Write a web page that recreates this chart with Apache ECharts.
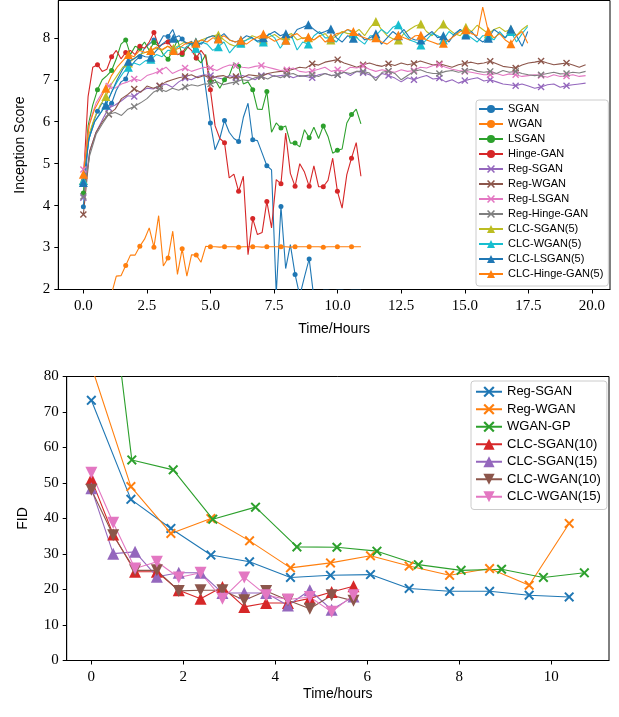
<!DOCTYPE html>
<html><head><meta charset="utf-8">
<script src="https://cdn.jsdelivr.net/npm/echarts@6/dist/echarts.min.js"></script>
<style>html,body{margin:0;padding:0;background:#fff}#c{width:619px;height:717px}</style>
</head><body><div id="c"></div>
<script>
// ---------- TOP CHART: Inception Score vs Time/Hours ----------
const stepA = 0.185, stepB = 0.25, stepC = 0.2212;   // sampling steps (hours)
function grid(n, step){ const a=[]; for(let i=0;i<n;i++) a.push(+(i*step).toFixed(4)); return a; }
const tA = grid(60, stepA);   // SGAN / WGAN / LSGAN / Hinge-GAN
const tB = grid(80, stepB);   // Reg-* series
const tC = grid(80, stepC);   // CLC-*(5) series

const sgan = [3.97,5.5,5.95,6.25,6.45,6.35,6.44,6.75,6.95,7.02,7.3,7.45,7.55,7.75,7.85,7.95,7.85,8.05,8.03,8.2,7.9,7.97,7.85,7.92,7.71,7.6,6.8,5.97,5.33,5.6,6.03,5.75,5.6,5.53,6.1,6.44,5.57,5.55,5.25,4.95,4.85,1.9,3.98,2.5,3.07,2.36,1.85,2.3,2.73,1.8,1.9,1.98,1.98,1.97,1.98,1.98,1.97,1.98,1.98,1.98];
const wgan = [1.2,1.3,1.25,1.3,1.5,1.7,1.9,2.32,2.33,2.57,2.82,2.82,3.03,3.2,3.47,3.01,3.76,2.56,2.75,3.39,2.36,2.97,2.32,2.83,2.82,2.65,3.03,3.02,3.02,3.01,3.02,3.02,3.02,3.01,3.02,3.02,3.02,3.02,3.01,3.02,3.02,3.02,3.02,3.02,3.01,3.02,3.02,3.02,3.02,3.02,3.02,3.01,3.02,3.02,3.02,3.02,3.02,3.02,3.02,3.02];
const lsgan = [4.3,5.9,6.4,6.76,7.0,7.1,7.22,7.5,7.85,7.95,7.6,7.8,7.75,7.9,7.7,7.89,7.8,7.6,7.49,7.7,7.95,7.6,7.75,7.9,7.52,7.4,7.6,6.95,7.0,6.8,7.0,7.1,7.4,7.32,6.9,6.95,6.76,6.3,6.29,6.72,5.75,5.97,5.85,5.9,5.49,5.49,5.4,5.81,5.62,5.87,5.6,5.9,5.65,5.25,5.32,5.35,5.97,6.17,6.3,5.95];
const hinge = [4.6,6.6,7.3,7.36,7.2,7.25,7.55,7.7,7.5,7.65,7.7,7.6,7.8,7.75,7.9,8.13,7.8,7.85,7.9,7.75,7.6,7.64,7.8,7.7,7.52,7.7,7.55,6.76,5.9,5.6,5.5,4.66,4.75,4.34,4.7,2.83,3.69,3.31,3.36,4.1,3.47,4.62,4.52,5.73,4.77,4.46,5.0,4.8,4.46,4.95,4.45,4.45,4.6,5.13,4.34,3.94,4.74,5.13,5.5,4.7];

const regSgan = [4.19,5.3,5.75,6.05, 6.33,6.4,6.5,6.62, 6.6,6.72,6.8,6.78, 6.85,6.9,6.82,6.95, 7.04,7.0,7.08,7.12, 7.1,7.05,7.02,7.1, 7.05,7.1,7.06,7.0, 7.1,7.15,7.08,7.1, 7.12,7.05,7.1,7.08, 7.05,7.12,7.15,7.1, 7.12,7.18,7.1,7.2, 7.17,7.12,7.05,7.15, 7.1,7.04,6.95,7.05, 7.0,7.06,7.1,7.02, 7.04,6.95,7.0,6.92, 6.98,7.02,7.05,6.97, 7.0,6.95,6.9,6.88, 6.86,6.9,6.85,6.8, 6.83,6.88,6.9,6.82, 6.86,6.88,6.9,6.92];
const regWgan = [3.79,5.3,5.75,6.0, 6.18,6.3,6.55,6.65, 6.78,6.7,6.85,6.8, 6.86,6.95,7.0,7.05, 7.08,7.12,7.05,7.1, 7.03,7.08,7.1,7.04, 7.08,7.05,7.12,7.1, 7.08,7.15,7.18,7.2, 7.21,7.25,7.3,7.28, 7.38,7.35,7.42,7.45, 7.48,7.4,7.35,7.3, 7.36,7.4,7.35,7.32, 7.38,7.34,7.4,7.36, 7.39,7.45,7.4,7.35, 7.38,7.34,7.3,7.36, 7.39,7.42,7.38,7.4, 7.44,7.38,7.32,7.3, 7.28,7.35,7.4,7.42, 7.45,7.4,7.36,7.38, 7.4,7.35,7.3,7.36];
const regLsgan = [4.86,6.0,6.45,6.7, 6.85,6.8,6.9,6.95, 7.02,6.98,7.1,7.15, 7.21,7.3,7.15,7.22, 7.28,7.2,7.25,7.3, 7.28,7.22,7.3,7.35, 7.34,7.3,7.28,7.32, 7.34,7.3,7.26,7.22, 7.24,7.28,7.2,7.18, 7.21,7.25,7.3,7.2, 7.24,7.2,7.3,7.28, 7.33,7.25,7.2,7.24, 7.2,7.18,7.24,7.2, 7.22,7.3,7.28,7.34, 7.36,7.3,7.25,7.22, 7.2,7.18,7.15,7.12, 7.12,7.15,7.1,7.14, 7.12,7.08,7.1,7.12, 7.1,7.06,7.12,7.08, 7.09,7.12,7.08,7.1];
const regHinge = [4.22,5.2,5.7,5.95, 6.18,6.22,6.15,6.3, 6.36,6.45,6.55,6.7, 6.78,6.72,6.8,6.75, 6.83,6.88,6.85,6.9, 6.9,6.95,6.88,6.92, 6.95,7.0,6.98,7.05, 7.08,7.02,7.1,7.05, 7.12,7.15,7.08,7.1, 7.12,7.08,7.15,7.1, 7.12,7.18,7.15,7.2, 7.2,7.16,6.98,7.18, 7.21,7.15,7.0,7.1, 7.2,7.24,7.18,7.15, 7.15,7.2,7.22,7.18, 7.21,7.25,7.2,7.18, 7.2,7.15,7.22,7.18, 7.2,7.15,7.12,7.1, 7.12,7.15,7.18,7.14, 7.15,7.18,7.16,7.2];

const clcSgan = [4.6,5.7,6.1,6.4, 6.6,6.9,7.1,7.3, 7.4,7.5,7.6,7.65, 7.7,7.75,7.7,7.8, 7.75,7.82,7.9,7.85, 7.9,7.95,8.0,8.05, 8.07,7.95,7.85,7.8, 7.9,7.95,8.05,8.0, 7.95,8.02,8.08,7.98, 8.05,8.1,7.95,8.0, 8.0,7.95,8.05,8.1, 7.95,8.05,8.15,8.1, 8.1,8.2,8.05,8.25, 8.39,8.2,8.05,7.98, 7.95,8.1,8.2,8.28, 8.33,8.15,8.05,8.2, 8.33,8.2,8.1,8.05, 8.25,8.15,8.3,8.2, 8.1,8.2,8.25,8.15, 8.2,8.05,8.2,8.3];
const clcWgan = [4.6,5.6,6.0,6.2, 6.4,6.7,6.95,7.15, 7.3,7.4,7.35,7.45, 7.49,7.6,7.55,7.7, 7.7,7.8,7.75,7.85, 7.75,7.9,7.85,7.7, 7.79,7.9,7.64,7.8, 7.87,7.95,8.0,7.9, 7.9,8.1,8.0,7.75, 7.95,8.05,7.71,7.9, 7.85,8.05,8.15,8.0, 8.0,7.9,8.1,8.2, 8.1,7.95,7.85,8.05, 8.05,8.2,8.1,8.25, 8.31,8.1,7.95,7.9, 7.83,7.95,8.1,8.05, 7.95,8.15,8.05,8.2, 8.1,8.0,7.9,8.05, 8.05,7.95,8.15,8.0, 8.15,7.9,8.1,8.27];
const clcLsgan = [4.55,5.6,6.0,6.2, 6.4,6.7,7.0,7.25, 7.44,7.5,7.6,7.55, 7.54,7.7,7.85,7.95, 7.99,8.05,7.9,7.85, 7.9,7.85,8.0,8.05, 7.99,8.1,7.95,7.9, 7.95,8.05,8.0,7.92, 8.0,8.08,8.15,8.05, 8.1,8.0,8.2,8.25, 8.31,8.2,8.1,8.15, 8.21,8.0,7.9,8.05, 7.99,8.1,7.95,8.0, 8.1,7.85,8.0,8.15, 8.05,8.2,8.0,7.95, 7.95,8.05,8.15,8.0, 8.05,7.9,8.1,8.2, 8.07,8.15,8.0,7.9, 7.99,8.2,8.1,8.0, 8.21,8.05,7.8,8.15];
const clcHinge = [4.75,5.9,6.3,6.55, 6.8,7.1,7.3,7.45, 7.6,7.55,7.7,7.65, 7.7,7.78,7.72,7.8, 7.7,7.75,7.85,7.9, 7.87,7.95,7.9,8.0, 7.97,8.05,7.95,7.9, 7.94,7.85,7.95,8.02, 8.09,8.0,7.92,7.98, 7.94,8.05,8.1,7.98, 8.02,7.95,8.05,7.9, 8.0,8.1,8.12,8.2, 8.15,8.05,8.0,7.95, 8.0,7.9,7.85,7.95, 8.06,8.0,7.95,8.05, 8.06,7.95,7.9,7.85, 7.87,7.95,8.05,8.15, 8.19,8.1,8.05,8.73, 8.15,8.0,8.1,7.95, 7.86,8.05,8.15,7.87];

const topXTicks = [0,2.5,5,7.5,10,12.5,15,17.5,20];
const topYTicks = [2,3,4,5,6,7,8];

// ---------- BOTTOM CHART: FID vs Time/hours ----------
const tReg = [0,0.86,1.73,2.6,3.44,4.33,5.2,6.07,6.91,7.79,8.66,9.52,10.39];
const fidRegSgan = [73.3,45.4,37.2,29.7,27.8,23.4,24.0,24.2,20.3,19.5,19.5,18.4,17.9];
const fidRegWgan = [83,49.0,35.8,40.0,33.7,26.1,27.5,29.5,26.6,24.0,25.9,21.2,38.6];
const tGp = [0,0.88,1.78,2.64,3.57,4.47,5.34,6.21,7.11,8.04,8.92,9.83,10.72];
const fidWganGp = [150,56.5,53.7,39.8,43.2,32.0,31.9,30.8,27.0,25.4,25.7,23.4,24.7];
const tClc = [0,0.475,0.95,1.425,1.9,2.375,2.85,3.325,3.8,4.275,4.75,5.225,5.7];
const fidClcSgan10 = [51.1,35.5,25.0,25.0,19.8,17.4,20.7,15.1,16.2,16.2,17.5,19.3,20.9];
const fidClcSgan15 = [48.5,30.1,30.6,23.6,24.7,24.7,19.0,19.0,19.0,15.5,19.8,14.3,18.0];
const fidClcWgan10 = [48.1,35.3,25.4,25.4,19.6,19.8,19.8,17.0,19.6,17.0,14.6,18.4,16.8];
const fidClcWgan15 = [52.9,38.8,25.9,27.8,23.4,24.7,17.4,23.4,18.4,17.2,17.9,13.7,18.4];
const botXTicks = [0,2,4,6,8,10];

// ---------- build ----------
const C = {blue:'#1f77b4',orange:'#ff7f0e',green:'#2ca02c',red:'#d62728',purple:'#9467bd',brown:'#8c564b',pink:'#e377c2',gray:'#7f7f7f',olive:'#bcbd22',cyan:'#17becf'};
const X = 'path://M0,1.4 L1.4,0 L5,3.6 L8.6,0 L10,1.4 L6.4,5 L10,8.6 L8.6,10 L5,6.4 L1.4,10 L0,8.6 L3.6,5 Z';
function pts(xs, ys, every){ return ys.map((v,i)=> i%every===0 ? [xs[i], v] : {value:[xs[i], v], symbol:'none'}); }
function mk(name, xs, ys, color, symbol, size, every, gi, extra){
  return Object.assign({
    type:'line', name, xAxisIndex:gi, yAxisIndex:gi,
    data: pts(xs, ys, every), symbol, symbolSize:size, showAllSymbol:true,
    lineStyle:{color, width:1.1}, itemStyle:{color},
    emphasis:{disabled:true}, clip:true, z:2
  }, extra||{});
}
const P = 'fid:';
const series = [
  mk('SGAN', tA, sgan, C.blue, 'circle', 5, 3, 0),
  mk('WGAN', tA, wgan, C.orange, 'circle', 5, 3, 0),
  mk('LSGAN', tA, lsgan, C.green, 'circle', 5, 3, 0),
  mk('Hinge-GAN', tA, hinge, C.red, 'circle', 5, 3, 0),
  mk('Reg-SGAN', tB, regSgan, C.purple, X, 7, 4, 0),
  mk('Reg-WGAN', tB, regWgan, C.brown, X, 7, 4, 0),
  mk('Reg-LSGAN', tB, regLsgan, C.pink, X, 7, 4, 0),
  mk('Reg-Hinge-GAN', tB, regHinge, C.gray, X, 7, 4, 0),
  mk('CLC-SGAN(5)', tC, clcSgan, C.olive, 'triangle', 9, 4, 0),
  mk('CLC-WGAN(5)', tC, clcWgan, C.cyan, 'triangle', 9, 4, 0),
  mk('CLC-LSGAN(5)', tC, clcLsgan, C.blue, 'triangle', 9, 4, 0),
  mk('CLC-Hinge-GAN(5)', tC, clcHinge, C.orange, 'triangle', 9, 4, 0),

  mk(P+'Reg-SGAN', tReg, fidRegSgan, C.blue, X, 10, 1, 1),
  mk(P+'Reg-WGAN', tReg, fidRegWgan, C.orange, X, 10, 1, 1),
  mk(P+'WGAN-GP', tGp, fidWganGp, C.green, X, 10, 1, 1),
  mk(P+'CLC-SGAN(10)', tClc, fidClcSgan10, C.red, 'triangle', 12, 1, 1),
  mk(P+'CLC-SGAN(15)', tClc, fidClcSgan15, C.purple, 'triangle', 12, 1, 1),
  mk(P+'CLC-WGAN(10)', tClc, fidClcWgan10, C.brown, 'triangle', 12, 1, 1, {symbolRotate:180}),
  mk(P+'CLC-WGAN(15)', tClc, fidClcWgan15, C.pink, 'triangle', 12, 1, 1, {symbolRotate:180})
];

const SERIF = '"Liberation Serif", "DejaVu Serif", serif';
const SANS = '"Liberation Sans", "DejaVu Sans", sans-serif';
function xAx(gi, min, max, ticks, fmt, name, gap){
  return {type:'value', gridIndex:gi, min, max, splitLine:{show:false},
    axisLine:{show:true, onZero:false, lineStyle:{color:'#000', width:1}},
    axisTick:{show:true, length:4, customValues:ticks, lineStyle:{color:'#000', width:1}},
    axisLabel:{customValues:ticks, formatter:fmt, fontFamily:SERIF, fontSize:15, color:'#000', margin:9},
    name, nameLocation:'middle', nameGap:gap, nameTextStyle:{fontFamily:SANS, fontSize:14, color:'#000'}};
}
function yAx(gi, min, max, ticks, name, gap){
  return {type:'value', gridIndex:gi, min, max, splitLine:{show:false},
    axisLine:{show:true, onZero:false, lineStyle:{color:'#000', width:1}},
    axisTick:{show:true, length:4, customValues:ticks, lineStyle:{color:'#000', width:1}},
    axisLabel:{customValues:ticks, fontFamily:SERIF, fontSize:15, color:'#000', margin:8},
    name, nameLocation:'middle', nameGap:gap, nameTextStyle:{fontFamily:SANS, fontSize:14, color:'#000'}};
}

const option = {
  animation:false,
  backgroundColor:'#fff',
  grid:[
    {left:58.3, top:0.5, width:551.7, height:289, show:true, borderColor:'#000', borderWidth:1, backgroundColor:'transparent'},
    {left:66.7, top:376.5, width:542.3, height:284, show:true, borderColor:'#000', borderWidth:1, backgroundColor:'transparent'}
  ],
  xAxis:[
    xAx(0, -0.986, 20.71, topXTicks, v=>Number(v).toFixed(1), 'Time/Hours', 33),
    xAx(1, -0.536, 11.256, botXTicks, v=>String(v), 'Time/hours', 27)
  ],
  yAxis:[
    yAx(0, 2, 8.89, topYTicks, 'Inception Score', 31),
    yAx(1, 0, 80, [0,10,20,30,40,50,60,70,80], 'FID', 37)
  ],
  legend:[
    {data:series.slice(0,12).map(s=>s.name), orient:'vertical', left:476, top:100,
     itemWidth:24, itemHeight:10, itemGap:1, padding:[2,5,5,2],
     backgroundColor:'rgba(255,255,255,0.85)', borderColor:'#ccc', borderWidth:1, borderRadius:3,
     textStyle:{fontFamily:SANS, fontSize:11, color:'#000', lineHeight:14}, selectedMode:false},
    {data:series.slice(12).map(s=>s.name), orient:'vertical', left:471, top:381,
     itemWidth:26, itemHeight:14, itemGap:0, padding:[2,6,4,4],
     formatter:n=>n.replace(P,''),
     backgroundColor:'rgba(255,255,255,0.85)', borderColor:'#ccc', borderWidth:1, borderRadius:3,
     textStyle:{fontFamily:SANS, fontSize:13, color:'#000', lineHeight:17.5}, selectedMode:false}
  ],
  series
};
const chart = echarts.init(document.getElementById('c'), null, {renderer:'canvas'});
chart.setOption(option);
</script></body></html>
